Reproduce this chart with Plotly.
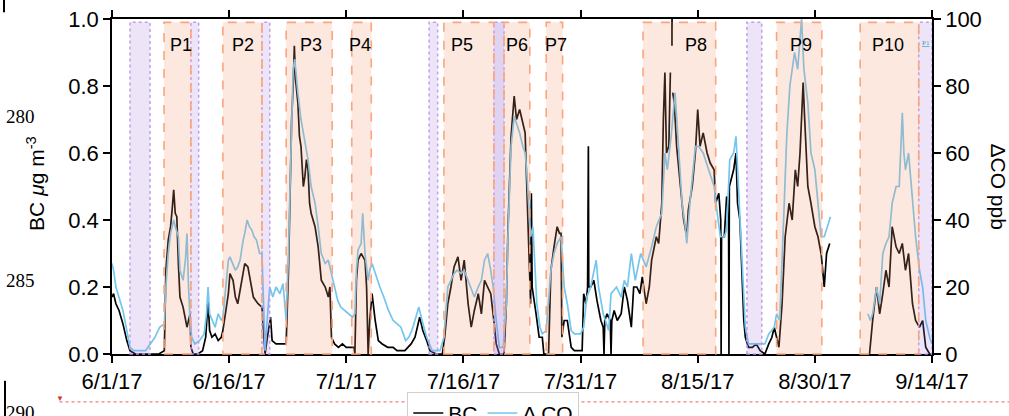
import pandas as pd
import plotly.graph_objects as go

BASE = pd.Timestamp("2017-06-01")

# ---- data (days since 6/1/17) ----
bc_day = [0.0,0.2,0.5,0.9,1.4,1.9,2.3,3.0,4.0,5.0,6.0,6.7,6.9,7.2,7.5,7.7,7.9,8.1,8.3,8.5,8.7,9.1,9.4,9.6,10.0,10.1,10.4,11.0,11.6,12.0,12.3,12.5,12.8,13.2,13.6,14.0,
          14.2,14.6,14.9,15.1,15.5,15.8,16.1,16.4,16.7,17.0,17.4,17.7,18.1,18.4,18.7,19.2,19.4,19.6,19.9,20.3,20.5,21.0,21.5,22.0,22.3,22.6,22.8,23.0,23.2,23.35,23.5,23.8,24.0,24.2,24.5,24.7,24.9,25.1,25.3,25.5,26.0,26.4,26.8,27.3,27.7,27.9,28.1,28.5,29.0,29.5,30.0,30.5,31.0,
          31.1,31.3,31.5,31.9,32.4,32.6,32.8,33.0,33.3,33.7,34.1,34.6,35.3,36.0,36.5,37.5,38.3,38.8,39.4,39.8,40.3,40.7,41.5,42.3,42.6,43.0,43.4,43.8,44.3,44.7,45.1,45.4,45.6,46.0,46.4,46.9,47.3,47.7,48.1,48.5,48.8,49.2,49.6,50.2,
          50.5,50.7,51.1,51.5,51.8,52.2,52.5,52.9,53.1,53.4,53.6,53.7,53.8,54.3,54.7,55.1,55.3,55.9,56.2,56.6,57.0,57.3,57.5,57.6,57.9,58.3,58.8,59.2,60.2,60.4,60.7,60.9,61.0,61.05,61.3,61.7,62.1,62.6,62.9,63.0,63.1,63.4,63.8,63.9,64.0,64.3,64.7,65.2,65.6,66.0,66.5,66.8,67.2,67.6,67.9,68.4,68.8,69.1,69.7,70.0,70.4,70.6,70.8,71.0,71.3,71.5,71.6,71.7,71.71,71.75,71.8,72.0,72.3,72.8,73.2,73.6,73.8,74.3,74.7,75.0,75.3,75.7,76.2,76.6,77.1,77.3,77.7,77.95,78.0,78.05,78.4,78.7,78.95,79.0,79.05,79.6,79.9,80.1,80.4,80.7,80.9,81.1,81.5,82.0,82.5,83.0,83.6,84.1,84.5,84.8,85.1,85.4,85.8,86.2,86.7,87.1,87.5,87.8,88.1,88.5,88.7,89.1,89.5,90.0,90.4,90.8,91.2,91.5,91.9,92.0,
          97.0,97.4,97.9,98.3,98.7,99.1,99.5,99.9,100.4,100.8,101.2,101.6,102.0,102.5,102.9,103.4,103.8,104.2,104.7,105.0]
bc_val = [0.17,0.18,0.15,0.13,0.09,0.04,0.01,0.0,0.0,0.0,0.0,0.01,0.25,0.34,0.38,0.43,0.49,0.42,0.41,0.27,0.17,0.14,0.10,0.08,0.12,0.02,0.0,0.0,0.01,0.05,0.16,0.07,0.05,0.06,0.04,0.05,
          0.07,0.14,0.18,0.24,0.22,0.17,0.15,0.19,0.23,0.27,0.26,0.22,0.17,0.16,0.15,0.14,0.05,0.0,0.05,0.11,0.04,0.03,0.03,0.03,0.03,0.25,0.5,0.7,0.8,0.92,0.82,0.75,0.65,0.62,0.5,0.53,0.58,0.55,0.45,0.42,0.38,0.32,0.22,0.2,0.17,0.2,0.05,0.03,0.02,0.03,0.02,0.02,0.02,
          0.0,0.22,0.28,0.3,0.28,0.2,0.0,0.1,0.18,0.1,0.04,0.03,0.02,0.02,0.01,0.01,0.03,0.05,0.11,0.07,0.04,0.01,0.0,0.0,0.05,0.15,0.2,0.26,0.29,0.22,0.28,0.2,0.15,0.08,0.13,0.18,0.12,0.22,0.2,0.18,0.12,0.03,0.0,0.0,
          0.15,0.37,0.65,0.77,0.7,0.73,0.7,0.66,0.51,0.3,0.15,0.48,0.2,0.12,0.05,0.05,0.0,0.0,0.25,0.32,0.38,0.36,0.36,0.05,0.1,0.1,0.02,0.01,0.01,0.18,0.15,0.2,0.62,0.2,0.2,0.22,0.16,0.1,0.08,0.0,0.1,0.12,0.1,0.0,0.1,0.13,0.1,0.12,0.2,0.16,0.08,0.2,0.2,0.18,0.23,0.15,0.2,0.28,0.35,0.33,0.45,0.7,0.84,0.6,0.62,0.84,None,0.92,1.0,None,0.78,0.75,0.62,0.5,0.4,0.35,0.43,0.5,0.6,0.73,0.62,0.66,0.6,0.57,0.55,0.45,0.48,0.4,0.0,0.35,0.35,0.47,0.45,0.0,0.5,0.55,0.6,0.45,0.4,0.2,0.1,0.05,0.02,0.02,0.03,0.01,0.0,0.03,0.05,0.08,0.05,0.02,0.15,0.35,0.45,0.4,0.55,0.5,0.6,0.81,0.7,0.5,0.45,0.38,0.35,0.3,0.2,0.3,0.33,None,
          0.0,0.1,0.2,0.12,0.18,0.25,0.2,0.38,0.32,0.3,0.33,0.25,0.3,0.15,0.1,0.08,0.1,0.02,0.0,0.0]

co_day = [0.0,0.2,0.5,0.9,1.4,1.9,2.3,2.8,3.5,4.3,4.9,5.5,6.1,6.7,6.9,7.2,7.5,7.7,7.9,8.1,8.5,8.7,9.1,9.4,9.6,9.8,10.0,10.2,10.6,11.2,11.8,12.1,12.3,12.5,12.8,13.2,13.6,14.0,
          14.2,14.6,14.9,15.1,15.5,15.8,16.1,16.4,16.8,17.0,17.3,17.6,17.9,18.2,18.5,18.9,19.2,19.4,19.6,19.8,20.2,20.6,21.0,21.5,21.9,22.3,22.6,22.8,23.0,23.2,23.4,23.6,23.8,24.2,24.7,25.1,25.5,26.0,26.4,26.8,27.3,27.7,28.1,28.5,28.9,29.3,29.8,30.2,30.8,
          31.1,31.3,31.5,31.9,32.1,32.4,32.8,33.0,33.3,33.7,34.3,34.8,35.4,36.0,36.5,37.0,37.6,38.0,38.4,38.9,39.3,39.7,40.3,41.0,42.0,42.5,43.0,43.4,43.8,44.2,44.7,45.1,45.6,46.0,46.4,46.9,47.3,47.7,48.1,48.5,48.8,49.2,49.6,50.1,
          50.5,50.7,51.1,51.5,51.9,52.2,52.6,52.9,53.1,53.4,53.6,53.9,54.4,54.8,55.1,55.6,56.2,56.6,57.0,57.5,57.9,58.3,58.8,59.2,60.0,60.4,60.8,61.3,62.0,62.3,62.9,63.6,63.9,64.6,65.2,65.6,66.0,66.5,67.0,67.7,68.4,69.1,69.7,70.4,70.6,70.8,71.1,71.6,72.1,72.5,73.0,73.4,73.6,74.0,74.7,75.1,75.7,76.4,77.1,77.5,77.9,78.4,78.7,79.1,79.6,79.9,80.3,80.7,81.1,81.5,82.5,83.6,84.1,84.8,85.1,85.5,86.0,86.4,86.8,87.4,87.8,88.1,88.3,88.6,89.1,89.5,90.0,90.4,90.8,91.2,91.6,92.0,92.1,
          96.8,97.1,97.4,97.9,98.3,98.7,99.1,99.5,99.9,100.4,100.8,101.2,101.4,101.6,102.0,102.5,102.9,103.4,103.8,104.2,104.7,105.0]
co_ppb = [27,25,20,17,13,7,2,1,1,1,3,5,8,9,20,30,36,38,40,38,35,25,22,28,36,20,10,5,3,4,6,12,20,12,10,8,12,10,
          11,22,28,29,27,25,26,28,34,36,40,38,37,35,34,30,30,12,1,8,20,17,20,18,21,10,30,50,70,85,88,82,78,70,63,58,50,45,38,30,27,28,24,20,16,14,13,12,11,
          12,25,31,33,42,30,22,25,27,24,20,17,13,10,9,8,4,5,7,11,14,10,5,1,1,5,20,22,24,25,24,25,22,20,17,20,22,28,30,25,20,10,2,2,
          15,35,62,71,68,66,62,60,55,42,35,38,15,8,6,7,25,30,33,35,20,15,7,6,6,8,17,20,28,20,12,7,18,20,17,22,20,30,22,30,26,32,38,42,50,60,55,65,78,62,45,38,33,45,62,62,60,55,50,42,35,35,37,58,60,65,45,25,8,3,3,3,6,8,12,10,40,65,80,90,85,95,100,85,75,60,55,45,35,35,38,41,None,
          12,10,12,20,15,30,33,35,45,50,50,72,60,55,60,45,35,25,20,10,5,3]

# shaded periods (days since 6/1/17)
orange_labels = ["P1","P2","P3","P4","P5","P6","P7","P8","P9","P10"]
orange_start = [6.66,14.2,22.3,30.7,42.5,50.2,55.6,68.0,85.1,95.8]
orange_end   = [10.1,19.2,28.2,33.2,48.9,53.5,57.7,77.3,90.9,103.3]
label_day    = [8.83,16.8,25.5,31.75,44.8,51.9,56.85,74.8,88.2,99.4]
purple_start = [2.3,10.1,19.2,40.6,48.9,81.3,103.3]
purple_end   = [4.87,11.1,20.2,41.7,50.2,83.2,105.0]
purple_alpha = [0.2,0.2,0.2,0.2,0.34,0.2,0.2]


def to_dt(days):
    return [BASE + pd.Timedelta(days=d) for d in days]

FONT = "Liberation Sans, Arial, Helvetica, sans-serif"

fig = go.Figure()
fig.add_trace(go.Scatter(x=to_dt(bc_day), y=bc_val, mode="lines", name="BC",
                         line=dict(color="#000000", width=1.7), connectgaps=False))
fig.add_trace(go.Scatter(x=to_dt(co_day), y=co_ppb, mode="lines", name="\u0394 CO",
                         line=dict(color="#74c6ee", width=1.7), yaxis="y2", connectgaps=False))

shapes = []
for s, e, a in zip(purple_start, purple_end, purple_alpha):
    shapes.append(dict(type="rect", xref="x", yref="paper",
                       x0=BASE + pd.Timedelta(days=s), x1=BASE + pd.Timedelta(days=e),
                       y0=0, y1=0.99, layer="above",
                       fillcolor=f"rgba(165,125,215,{a})",
                       line=dict(color="rgba(190,155,235,0.95)", width=1.5, dash="dot")))
for s, e in zip(orange_start, orange_end):
    shapes.append(dict(type="rect", xref="x", yref="paper",
                       x0=BASE + pd.Timedelta(days=s), x1=BASE + pd.Timedelta(days=e),
                       y0=0, y1=0.99, layer="above",
                       fillcolor="rgba(245,150,110,0.22)",
                       line=dict(color="rgba(250,165,125,1)", width=1.6, dash="dash")))

# manuscript artefacts (outside plot)
shapes.append(dict(type="line", xref="paper", yref="paper",
                   x0=-0.064, x1=1.0939, y0=-0.143, y1=-0.143,
                   line=dict(color="rgba(225,80,80,0.9)", width=1, dash="dot")))
shapes.append(dict(type="line", xref="paper", yref="paper",
                   x0=-0.1305, x1=-0.1305, y0=-0.08, y1=-0.19,
                   line=dict(color="black", width=2)))
shapes.append(dict(type="line", xref="paper", yref="paper",
                   x0=-0.1317, x1=-0.1317, y0=1.057, y1=1.02,
                   line=dict(color="black", width=2)))

annotations = []
for lab, d in zip(orange_labels, label_day):
    annotations.append(dict(x=BASE + pd.Timedelta(days=d), y=0.922, xref="x", yref="paper",
                            yanchor="middle",
                            text=lab, showarrow=False, font=dict(size=18, color="black", family=FONT)))
annotations.append(dict(x=BASE + pd.Timedelta(days=104.2), y=0.928, xref="x", yref="paper",
                        yanchor="middle",
                        text="<u>P1</u>", showarrow=False, font=dict(size=7, color="#3a9fb5", family="Liberation Serif")))
annotations.append(dict(x=-0.093, y=0.51, xref="paper", yref="paper", textangle=-90,
                        xanchor="center", yanchor="middle",
                        text="BC <i>\u03bc</i>g m<sup>-3</sup>", showarrow=False,
                        font=dict(size=21, color="black", family=FONT)))
annotations.append(dict(x=1.0805, y=0.5, xref="paper", yref="paper", textangle=90,
                        xanchor="center", yanchor="middle",
                        text="\u0394CO ppb", showarrow=False,
                        font=dict(size=21, color="black", family=FONT)))
for txt, yp in [("280", 0.708), ("285", 0.218), ("290", -0.175)]:
    annotations.append(dict(x=-0.0915, y=yp, xref="paper", yref="paper",
                            xanchor="right", yanchor="middle",
                            text=txt, showarrow=False,
                            font=dict(size=19, color="black", family="Liberation Serif")))
annotations.append(dict(x=-0.064, y=-0.134, xref="paper", yref="paper",
                        xanchor="center", yanchor="middle",
                        text="\u25bc", showarrow=False,
                        font=dict(size=8, color="rgb(220,50,50)")))

fig.update_layout(
    width=1009, height=416,
    margin=dict(l=112, r=77, t=19, b=62, autoexpand=False),
    paper_bgcolor="white", plot_bgcolor="white",
    font=dict(family=FONT, size=21, color="black"),
    showlegend=True,
    legend=dict(orientation="h", x=0.465, y=-0.113, xanchor="center", yanchor="top",
                bordercolor="#cfcfcf", borderwidth=1, font=dict(size=21),
                itemwidth=30, tracegroupgap=0),
    xaxis=dict(type="date", range=[BASE, BASE + pd.Timedelta(days=105)],
               tick0=BASE, dtick=15 * 86400000, tickformat="%-m/%-d/%y",
               ticks="outside", ticklen=7, tickwidth=1.5, tickcolor="black",
               showline=True, linecolor="black", linewidth=1.5, mirror="ticks",
               showgrid=False, zeroline=False, tickfont=dict(size=22)),
    yaxis=dict(range=[0, 1.0], dtick=0.2, tickformat=".1f",
               ticks="outside", ticklen=7, tickwidth=1.5, tickcolor="black",
               showline=True, linecolor="black", linewidth=1.5,
               showgrid=False, zeroline=False, tickfont=dict(size=22)),
    yaxis2=dict(range=[0, 100], dtick=20, overlaying="y", side="right",
                ticks="outside", ticklen=7, tickwidth=1.5, tickcolor="black",
                showline=True, linecolor="black", linewidth=1.5,
                showgrid=False, zeroline=False, tickfont=dict(size=22)),
    shapes=shapes, annotations=annotations,
)

fig.write_html("out.html", config={"displayModeBar": False},
               post_script="document.body.style.margin='0';document.body.style.overflow='hidden';")
